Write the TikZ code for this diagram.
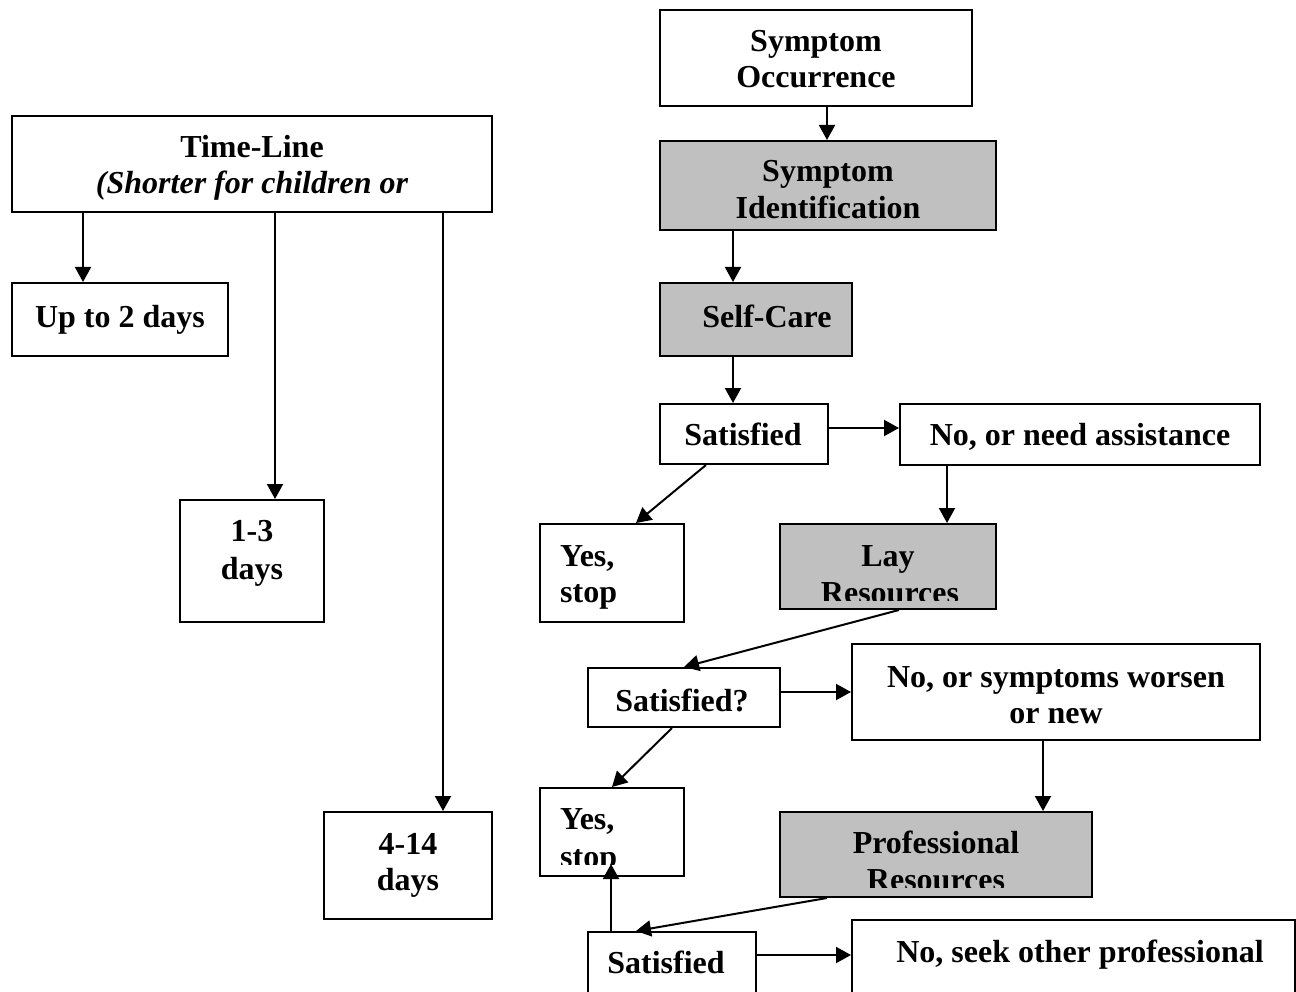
\documentclass[tikz,border=0pt]{standalone}
\usepackage{fontspec}
\setmainfont{Liberation Serif}
\usetikzlibrary{arrows.meta,calc}
\definecolor{boxgrey}{HTML}{C0C0C0}
\begin{document}
\begin{tikzpicture}[x=1pt,y=-1pt,
  box/.style={draw=black, line width=2pt, fill=white, rectangle, inner sep=0pt},
  gbox/.style={box, fill=boxgrey},
  txt/.style={font=\fontsize{32}{37}\selectfont\bfseries, inner sep=0pt, anchor=base},
  ltxt/.style={txt, anchor=base west},
  arr/.style={line width=2pt, -{Triangle[length=15pt,width=16pt]}},
]
\clip (0,0) rectangle (1296,992);
\fill[white] (0,0) rectangle (1296,992);
% boxes
\node[box,  minimum width=480, minimum height=96]  (tl)     at (252,164) {};
\node[box,  minimum width=216, minimum height=73]  (up2)    at (120,319.5) {};
\node[box,  minimum width=144, minimum height=122] (d13)    at (252,561) {};
\node[box,  minimum width=168, minimum height=107] (d414)   at (408,865.5) {};
\node[box,  minimum width=312, minimum height=96]  (occ)    at (816,58) {};
\node[gbox, minimum width=336, minimum height=89]  (ident)  at (828,185.5) {};
\node[gbox, minimum width=192, minimum height=73]  (self)   at (756,319.5) {};
\node[box,  minimum width=168, minimum height=60]  (sat1)   at (744,434) {};
\node[box,  minimum width=360, minimum height=61]  (assist) at (1080,434.5) {};
\node[box,  minimum width=144, minimum height=98]  (yes1)   at (612,573) {};
\node[gbox, minimum width=216, minimum height=85]  (lay)    at (888,566.5) {};
\node[box,  minimum width=192, minimum height=59]  (sat2)   at (684,697.5) {};
\node[box,  minimum width=408, minimum height=96]  (worse)  at (1056,692) {};
\node[box,  minimum width=144, minimum height=88]  (yes2)   at (612,832) {};
\node[gbox, minimum width=312, minimum height=85]  (prof)   at (936,854.5) {};
\node[box,  minimum width=168, minimum height=80]  (sat3)   at (672,972) {};
\node[box,  minimum width=443, minimum height=92]  (seek)   at (1073.5,966) {};
% texts
\node[txt] (tla) at (252,158) {Time-Line};
\node[txt] (tlb) at (252,194) {\itshape (Shorter for children or};
\node[txt] (up2t) at (120,327) {Up to 2 days};
\node[txt] (d13a) at (252,541) {1-3};
\node[txt] (d13b) at (252,579) {days};
\node[txt] (d414a) at (408,854) {4-14};
\node[txt] (d414b) at (408,890) {days};
\node[txt] (occa) at (816,52) {Symptom};
\node[txt] (occb) at (816,88) {Occurrence};
\node[txt] (identa) at (828,182) {Symptom};
\node[txt] (identb) at (828,219) {Identification};
\node[txt] (selft) at (767,327) {Self-Care};
\node[txt] (sat1t) at (743,445) {Satisfied};
\node[txt] (assistt) at (1080,445) {No, or need assistance};
\node[ltxt] (yes1a) at (560,566) {Yes,};
\node[ltxt] (yes1b) at (560,602) {stop};
\node[txt] (laya) at (888,566) {Lay};
\node[txt] (layb) at (890,603) {Resources};
\node[txt] (sat2t) at (682,711) {Satisfied?};
\node[txt] (worsea) at (1056,687) {No, or symptoms worsen};
\node[txt] (worseb) at (1056,723) {or new};
\node[ltxt] (yes2a) at (560,829) {Yes,};
\node[ltxt] (yes2b) at (560,867) {stop};
\node[txt] (profa) at (936,853) {Professional};
\node[txt] (profb) at (936,890) {Resources};
\node[txt] (sat3t) at (666,973) {Satisfied};
\node[txt] (seekt) at (1080,962) {No, seek other professional};
% clipped text bottoms (strips of box colour, inside the border)
\fill[boxgrey] ($(lay.south west)+(2,-9)$) rectangle ($(lay.south east)+(-2,-2)$);
\fill[boxgrey] ($(prof.south west)+(2,-10)$) rectangle ($(prof.south east)+(-2,-2)$);
\fill[white] ($(yes2.south west)+(2,-12)$) rectangle ($(yes2.south east)+(-2,-2)$);
% connector start points
\coordinate (c1) at ($(tl.south west)+(72,0)$);
\coordinate (c2) at ($(tl.south west)+(264,0)$);
\coordinate (c3) at ($(tl.south west)+(432,0)$);
\coordinate (c4) at ($(occ.south west)+(168,0)$);
\coordinate (c5) at ($(ident.south west)+(74,0)$);
\coordinate (c6) at ($(self.south west)+(74,0)$);
\coordinate (c7) at ($(assist.south west)+(48,0)$);
\coordinate (c8) at ($(worse.south west)+(192,0)$);
\coordinate (h1) at ($(sat1.east)+(0,-6)$);
\coordinate (h2) at ($(sat2.east)+(0,-5.5)$);
\coordinate (h3) at ($(sat3.north east)+(0,24)$);
% connectors
\draw[arr] (c1) -- (c1 |- up2.north);
\draw[arr] (c2) -- (c2 |- d13.north);
\draw[arr] (c3) -- (c3 |- d414.north);
\draw[arr] (c4) -- (c4 |- ident.north);
\draw[arr] (c5) -- (c5 |- self.north);
\draw[arr] (c6) -- (c6 |- sat1.north);
\draw[arr] (c7) -- (c7 |- lay.north);
\draw[arr] (c8) -- (c8 |- prof.north);
\draw[arr] (h1) -- (h1 -| assist.west);
\draw[arr] (h2) -- (h2 -| worse.west);
\draw[arr] (h3) -- (h3 -| seek.west);
\draw[arr] ($(sat1.south west)+(47,0)$) -- ($(yes1.north west)+(97,0)$);
\draw[arr] ($(lay.south west)+(120,0)$) -- ($(sat2.north west)+(97,0)$);
\draw[arr] ($(sat2.south west)+(85,0)$) -- ($(yes2.north west)+(73,0)$);
\draw[arr] ($(prof.south west)+(48,0)$) -- ($(sat3.north west)+(49,0)$);
\draw[arr] ($(sat3.north west)+(24,0)$) -- ($(yes2.south west)+(72,-13)$);
\end{tikzpicture}
\end{document}
